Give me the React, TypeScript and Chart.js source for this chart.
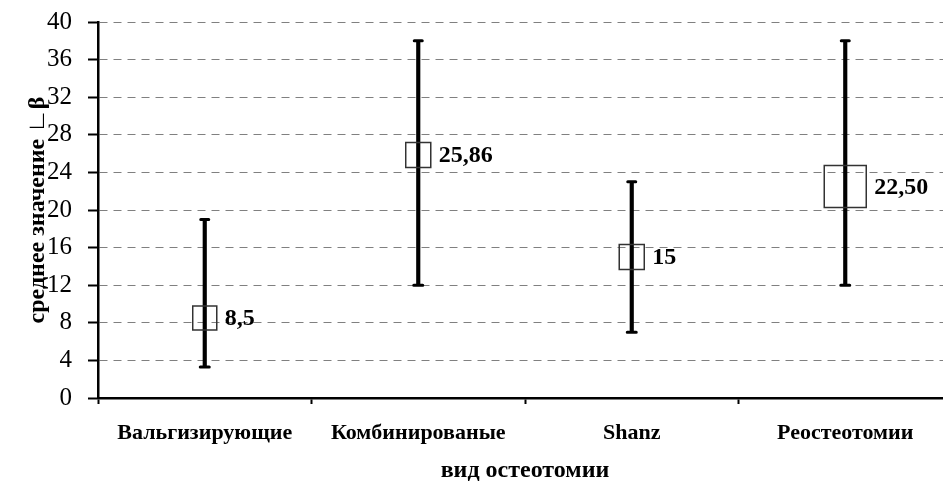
import React, { useEffect, useRef } from "react";
import { Chart, registerables } from "chart.js";

Chart.register(...registerables);

const categories = ["Вальгизирующие", "Комбинированые", "Shanz", "Реостеотомии"];
const means = [8.5, 25.86, 15, 22.5];
const meanLabels = ["8,5", "25,86", "15", "22,50"];
const lows = [3.3, 12, 7, 12];
const highs = [19, 38, 23, 38];
const markerRadius = [17, 17.7, 17.7, 29.7];
const yTicks = [0, 4, 8, 12, 16, 20, 24, 28, 32, 36, 40];

const SERIF = "'Liberation Serif', 'Times New Roman', serif";

const capsAndLabels = {
  id: "capsAndLabels",
  afterDatasetsDraw(chart: any) {
    const { ctx, scales } = chart;
    const xs = scales.x;
    const ys = scales.y;
    ctx.save();
    ctx.strokeStyle = "#000";
    ctx.lineWidth = 3;
    ctx.lineCap = "round";
    for (let i = 0; i < categories.length; i++) {
      const x = xs.getPixelForValue(i);
      const yt = ys.getPixelForValue(highs[i]);
      const yb = ys.getPixelForValue(lows[i]);
      ctx.beginPath();
      ctx.moveTo(x - 4, yt);
      ctx.lineTo(x + 4, yt);
      ctx.moveTo(x - 4.5, yb);
      ctx.lineTo(x + 4.5, yb);
      ctx.stroke();
    }
    ctx.fillStyle = "#000";
    ctx.font = "bold 24px " + SERIF;
    ctx.textAlign = "left";
    ctx.textBaseline = "middle";
    for (let i = 0; i < categories.length; i++) {
      const x = xs.getPixelForValue(i);
      const y = ys.getPixelForValue(means[i]);
      const half = markerRadius[i] * Math.SQRT1_2;
      ctx.fillText(meanLabels[i], x + half + 8, y + 1);
    }
    ctx.restore();
  },
};

export default function App() {
  const ref = useRef<HTMLCanvasElement | null>(null);
  useEffect(() => {
    if (!ref.current) return;
    const chart = new Chart(ref.current, {
      type: "bar",
      data: {
        labels: categories,
        datasets: [
          {
            type: "line",
            label: "mean",
            data: means,
            showLine: false,
            pointStyle: "rect",
            pointRadius: markerRadius,
            pointBorderColor: "#333333",
            pointBorderWidth: 1.5,
            pointBackgroundColor: "rgba(0,0,0,0)",
            order: 1,
          } as any,
          {
            type: "bar",
            label: "range",
            data: lows.map((l, i) => [l, highs[i]]),
            backgroundColor: "#000",
            barThickness: 3.5,
            grouped: false,
            order: 2,
          } as any,
        ],
      },
      options: {
        responsive: false,
        animation: false,
        events: [],
        layout: { autoPadding: false, padding: { top: 22, right: 8, left: 0, bottom: 0 } },
        plugins: {
          legend: { display: false },
          tooltip: { enabled: false },
          title: { display: false },
        },
        scales: {
          x: {
            offset: true,
            grid: {
              offset: true,
              drawOnChartArea: false,
              drawTicks: true,
              tickLength: 6,
              tickColor: "#000",
              tickWidth: 2,
            },
            border: { color: "#000", width: 2.5 },
            ticks: {
              color: "#000",
              padding: 16,
              maxRotation: 0,
              autoSkip: false,
              font: { family: SERIF, size: 22, weight: "bold" },
            },
            title: {
              display: true,
              text: "вид остеотомии",
              color: "#000",
              padding: { top: 0, bottom: 0 },
              font: { family: SERIF, size: 24, weight: "bold", lineHeight: 1 },
            },
            afterFit(scale: any) {
              scale.height = 85;
              scale.paddingLeft = 0;
              scale.paddingRight = 0;
            },
          },
          y: {
            min: 0,
            max: 40,
            afterBuildTicks(scale: any) {
              scale.ticks = yTicks.map((v) => ({ value: v }));
            },
            grid: {
              color: "#808080",
              lineWidth: 1,
              tickBorderDash: [],
              tickLength: 10,
              tickColor: "#000",
              tickWidth: 2,
            },
            border: { color: "#000", width: 2.5, dash: [8, 6] },
            ticks: {
              color: "#000",
              padding: 16,
              font: { family: SERIF, size: 25 },
            },
            title: {
              display: true,
              text: "среднее значение ∟β",
              color: "#000",
              padding: { top: 23, bottom: 0 },
              font: { family: SERIF, size: 24, weight: "bold" },
            },
            afterFit(scale: any) {
              scale.width = 98;
              scale.paddingTop = 0;
              scale.paddingBottom = 0;
            },
          },
        },
      },
      plugins: [capsAndLabels],
    } as any);
    return () => chart.destroy();
  }, []);
  return (
    <div
      style={{
        position: "fixed",
        left: 0,
        top: 0,
        width: 943,
        height: 483,
        overflow: "hidden",
        background: "#fff",
      }}
    >
      <canvas ref={ref} width={960} height={483} style={{ width: 960, height: 483, display: "block" }} />
    </div>
  );
}
